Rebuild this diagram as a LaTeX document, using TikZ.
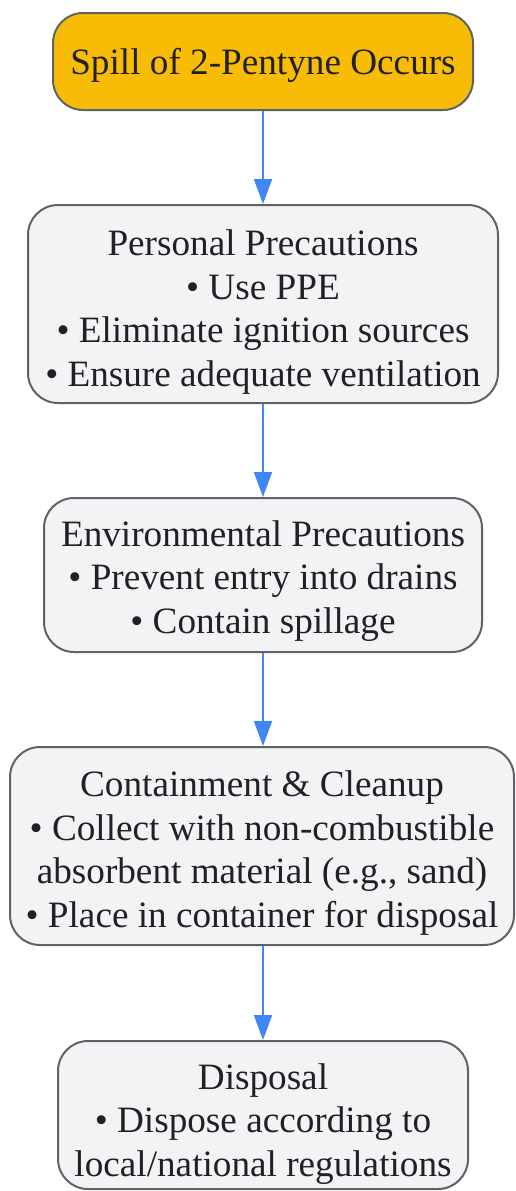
\documentclass[tikz,border=0pt]{standalone}
\usepackage{fontspec}
\setmainfont{Liberation Serif}
\usetikzlibrary{arrows.meta}
\definecolor{topfill}{HTML}{F9BC06}
\definecolor{boxfill}{HTML}{F1F3F5}
\definecolor{boxline}{HTML}{5F6368}
\definecolor{arrowc}{HTML}{4285F4}
\definecolor{txt}{HTML}{202124}
\tikzset{
  stepbox/.style={draw=boxline, line width=2pt, rounded corners=30pt, fill=boxfill,
    inner sep=0pt},
  steptext/.style={inner sep=0pt, align=center, text=txt,
    font=\fontsize{37.2}{43.7}\selectfont},
  flow/.style={draw=arrowc, line width=2pt, -{Triangle[length=25pt,width=18pt]}}
}
\begin{document}
\begin{tikzpicture}[x=1pt,y=1pt]
\useasboundingbox (0,0) rectangle (515,-1191);
\node[stepbox, fill=topfill, minimum width=420pt, minimum height=97pt] (a) at (263,-61.5) {};
\node[steptext] (at) at (263,-65.5) {Spill of 2-Pentyne Occurs};
\node[stepbox, minimum width=470pt, minimum height=198pt] (b) at (263,-304) {};
\node[steptext] (bt) at (263,-312) {Personal Precautions\\• Use PPE\\• Eliminate ignition sources\\• Ensure adequate ventilation};
\node[stepbox, minimum width=438pt, minimum height=154pt] (c) at (263,-575) {};
\node[steptext] (ct) at (263,-581) {Environmental Precautions\\• Prevent entry into drains\\• Contain spillage};
\node[stepbox, minimum width=504pt, minimum height=198pt] (d) at (262,-846) {};
\node[steptext] (dt) at (262,-853) {Containment \& Cleanup\\• Collect with non-combustible\\absorbent material (e.g., sand)\\• Place in container for disposal};
\node[stepbox, minimum width=410pt, minimum height=148pt] (e) at (263,-1115) {};
\node[steptext] (et) at (263,-1124) {Disposal\\• Dispose according to\\local/national regulations};
\draw[flow] (a.south -| 263,0) -- (b.north -| 263,0);
\draw[flow] (b.south -| 263,0) -- (c.north -| 263,0);
\draw[flow] (c.south -| 263,0) -- (d.north -| 263,0);
\draw[flow] (d.south -| 263,0) -- (e.north -| 263,0);
\end{tikzpicture}
\end{document}
